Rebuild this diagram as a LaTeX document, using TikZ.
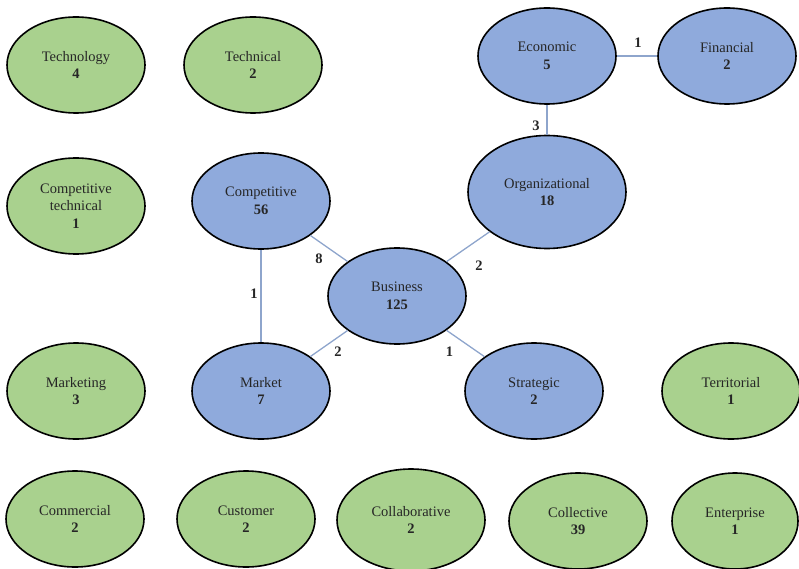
\documentclass[tikz,border=0pt]{standalone}
\usepackage{fontspec}
\setmainfont{Liberation Serif}
\usetikzlibrary{shapes.geometric}
\definecolor{leafgreen}{HTML}{A9D18E}
\definecolor{corefill}{HTML}{8FAADC}
\definecolor{linkline}{HTML}{8EA5CC}
\tikzset{
  topic/.style={ellipse, draw=black, line width=1.6pt, minimum width=138pt,
    minimum height=96pt, inner sep=0pt, align=center,
    font=\fontsize{14.5}{17.5}\selectfont, text=black!85},
  isolated/.style={topic, fill=leafgreen},
  linked/.style={topic, fill=corefill},
  link/.style={draw=linkline, line width=1.3pt},
  weight/.style={font=\fontsize{14.5}{16}\selectfont\bfseries, text=black!85, inner sep=0pt}
}
\begin{document}
\begin{tikzpicture}[x=1pt,y=-1pt]
    \useasboundingbox (0,0) rectangle (799,569);
    \foreach \n/\x/\y/\t/\v in {
        techno/76/65/Technology/4,
        techni/253/65/Technical/2,
        comptech/76/206/{Competitive\\technical}/1,
        marketing/76/391/Marketing/3,
        territ/731/391/Territorial/1,
        commer/75/519/Commercial/2,
        custom/246/519/Customer/2,
        collec/578/521/Collective/39}{
      \node[isolated] (\n) at (\x,\y) {\t\\\textbf{\v}};
    }
    \node[isolated, minimum width=148pt, minimum height=102pt] (collab) at (411,520) {Collaborative\\\textbf{2}};
    \node[isolated, minimum width=126pt] (enterp) at (735,521) {Enterprise\\\textbf{1}};

    \foreach \n/\x/\y/\t/\v in {
        comp/261/201/Competitive/56,
        busi/397/296/Business/125,
        mark/261/391/Market/7,
        strat/534/391/Strategic/2,
        econ/547/56/Economic/5,
        fin/727/56/Financial/2}{
      \node[linked] (\n) at (\x,\y) {\t\\\textbf{\v}};
    }
    \node[linked, minimum width=158pt, minimum height=113pt] (org) at (547,192) {Organizational\\\textbf{18}};

    \draw[link] (comp) -- (busi) node[weight, midway, xshift=-10pt, yshift=-10pt] {8};
    \draw[link] (comp) -- (mark) node[weight, midway, xshift=-7pt, yshift=2pt] {1};
    \draw[link] (busi) -- (org) node[weight, midway, xshift=11pt, yshift=-19pt] {2};
    \draw[link] (busi) -- (mark) node[weight, midway, xshift=9pt, yshift=-8pt] {2};
    \draw[link] (busi) -- (strat) node[weight, midway, xshift=-16pt, yshift=-8pt] {1};
    \draw[link] (econ) -- (org) node[weight, midway, xshift=-11pt, yshift=-6pt] {3};
    \draw[link] (econ) -- (fin) node[weight, midway, xshift=1pt, yshift=13pt] {1};
\end{tikzpicture}
\end{document}
